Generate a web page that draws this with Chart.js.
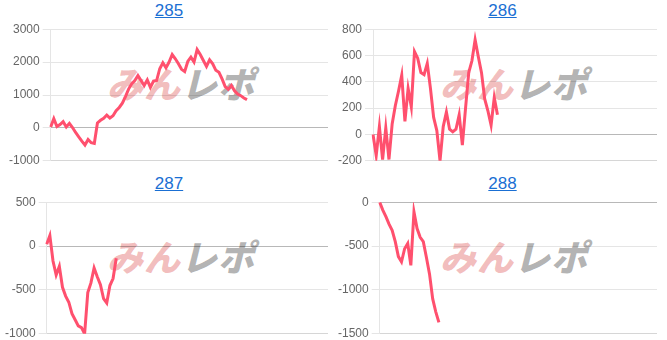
<!DOCTYPE html>
<html>
<head>
<meta charset="utf-8">
<script src="https://cdn.jsdelivr.net/npm/chart.js@4"></script>
<style>
  body { margin: 0; background: #fff; font-family: 'Liberation Sans', Arial, sans-serif; }
  .grid { display: grid; grid-template-columns: 333px 334px; width: 667px; }
  .cell { position: relative; height: 173px; }
  .title { position: absolute; top: 1px; left: 5px; right: 0; text-align: center; font-size: 17px; line-height: 20px; }
  .title a { color: #1a6fd3; text-decoration: underline; }
  .logo { position: absolute; left: 106px; top: 62px; font-family: 'Noto Sans CJK JP', sans-serif; font-weight: 900;
          font-size: 36px; line-height: 40px; letter-spacing: 1px; white-space: nowrap;
          transform: skewX(-14deg); transform-origin: left bottom; }
  .logo .a { color: rgba(225, 95, 95, 0.42); }
  .logo .b { color: rgba(105, 105, 105, 0.52); }
  .box { position: absolute; top: 19px; height: 152px; }
</style>
</head>
<body>
<div class="grid" id="grid"></div>
<script>
// 収支グラフ (4台分)
const titles = ['285', '286', '287', '288'];
const roundCount = 90;

const series285 = [30, 280, 40, 100, 190, 30, 140, 10, -140, -270, -400, -520, -350, -450, -470, 150, 230, 290, 390, 300,
  370, 520, 620, 750, 950, 1180, 1340, 1440, 1590, 1440, 1290, 1460, 1230, 1420, 1440, 1800, 1980, 1830, 2000, 2230,
  2100, 1950, 1780, 1710, 2020, 2150, 2000, 2380, 2230, 2050, 1870, 2070, 1950, 1750, 1690, 1490, 1255, 1170, 1290, 1130,
  1030, 980, 910, 860];
const series286 = [0, -160, 60, -190, 50, -190, 80, 220, 330, 450, 100, 350, 210, 630, 580, 470, 455, 540, 350, 130,
  30, -200, 60, 170, 40, 20, 40, 150, -80, 200, 470, 560, 720, 590, 470, 270, 180, 70, 280, 150];
const series287 = [20, 120, -170, -330, -230, -470, -570, -640, -770, -840, -910, -930, -1000, -530, -420, -250, -350,
  -440, -600, -650, -450, -370, -140];
const series288 = [0, -90, -165, -250, -320, -450, -620, -680, -530, -470, -720, -110, -300, -400, -450, -630, -820,
  -1100, -1250, -1370];

const yMin = [-1000, -200, -1000, -1500];
const yMax = [3000, 800, 500, 0];
const yStep = [1000, 200, 500, 500];

const allSeries = [series285, series286, series287, series288];
const boxLeft = [6, 335, 2, 335];
const boxRight = [5, 10, 5, 10];
const lineColor = 'rgb(255, 80, 110)';

const grid = document.getElementById('grid');
const labels = Array.from({ length: roundCount }, (_, i) => i + 1);

titles.forEach((t, idx) => {
    const cell = document.createElement('div');
    cell.className = 'cell';
    const colStart = idx % 2 === 0 ? 0 : 333;
    cell.innerHTML = `
        <div class="title"><a href="#">${t}</a></div>
        <div class="logo"><span class="a">みん</span><span class="b">レポ</span></div>
        <div class="box" style="left:${boxLeft[idx] - colStart}px; right:${boxRight[idx]}px;"><canvas></canvas></div>
    `;
    grid.appendChild(cell);

    const ctx = cell.querySelector('canvas').getContext('2d');
    new Chart(ctx, {
        type: 'line',
        data: {
            labels: labels,
            datasets: [{
                data: allSeries[idx],
                borderColor: lineColor,
                borderWidth: 3,
                pointRadius: 0,
                tension: 0,
                fill: false
            }]
        },
        options: {
            responsive: true,
            maintainAspectRatio: false,
            animation: false,
            plugins: {
                legend: { display: false },
                tooltip: { enabled: false }
            },
            scales: {
                x: { display: false },
                y: {
                    min: yMin[idx],
                    max: yMax[idx],
                    ticks: {
                        stepSize: yStep[idx],
                        color: '#666',
                        font: { size: 12, family: "'Liberation Sans', Arial, sans-serif" },
                        callback: v => String(v)
                    },
                    grid: {
                        color: c => c.tick && c.tick.value === 0 ? 'rgba(0,0,0,0.28)'
                            : (c.index === 0 ? 'rgba(0,0,0,0.16)' : 'rgba(0,0,0,0.1)'),
                        tickColor: 'rgba(0,0,0,0.1)'
                    },
                    border: { color: 'rgba(0,0,0,0.1)' }
                }
            }
        }
    });
});
</script>
</body>
</html>
